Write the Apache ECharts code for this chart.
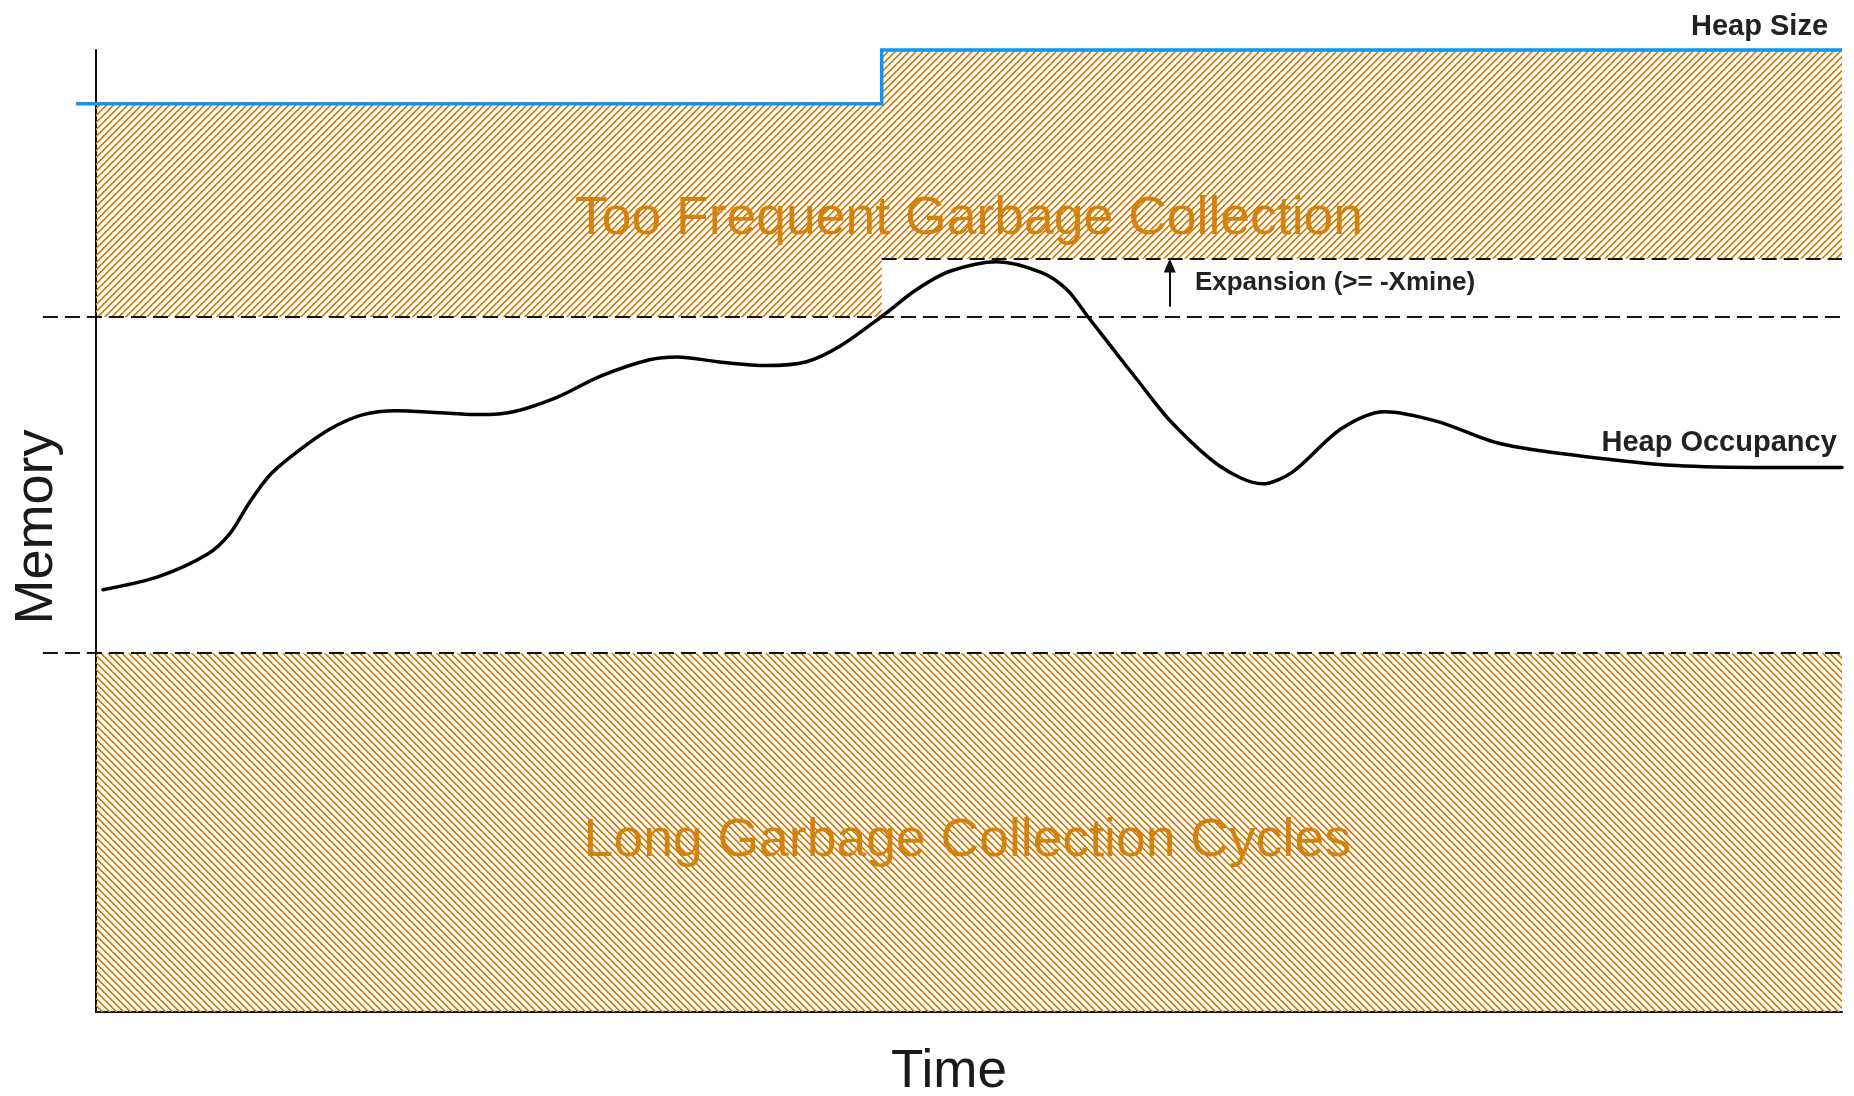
<!DOCTYPE html>
<html>
<head>
<meta charset="utf-8">
<title>Heap occupancy</title>
<script src="https://cdn.jsdelivr.net/npm/echarts@6/dist/echarts.min.js"></script>
<style>
  html, body { margin: 0; padding: 0; background: #fff; }
  #chart { width: 1854px; height: 1096px; }
</style>
</head>
<body>
<div id="chart"></div>
<script>
// time and memory are both in % of the axis length
const occupancyTime = [0.4, 3.5, 6.4, 7.7, 8.8, 10.0, 11.5, 13.4, 15.3, 17.2, 19.7, 22.0, 23.9, 26.4,
  28.9, 31.7, 33.3, 35.6, 38.4, 40.7, 42.6, 45.0, 47.0, 48.9, 51.6, 54.1, 55.6, 56.8, 58.6, 59.6,
  61.6, 64.4, 66.8, 68.5, 71.3, 73.8, 76.8, 80.4, 85.0, 90.5, 96.0, 100];
const occupancyMemory = [43.9, 45.2, 47.6, 49.8, 53.0, 55.9, 58.2, 60.6, 62.1, 62.5, 62.3, 62.1, 62.4, 63.9,
  66.1, 67.8, 68.1, 67.6, 67.2, 67.6, 69.2, 72.3, 75.1, 77.0, 78.0, 76.9, 75.1, 72.3, 68.1, 65.8,
  61.3, 56.7, 54.9, 56.1, 60.6, 62.4, 61.4, 59.1, 57.8, 56.8, 56.6, 56.6];
const heapSizeTime = [-1.15, 45, 45, 100];
const heapSizeMemory = [94.4, 94.4, 100, 100];
const expansionTime = 45;
const longGcLevel = 37.3;
const frequentGcLevel = 72.25;
const expandedLevel = 78.3;

const orange = '#d4820f';
const font = '"Liberation Sans", Arial, sans-serif';

function pairs(xs, ys) {
  return xs.map((x, i) => [x, ys[i]]);
}

// pixel hatch, dir 1 = "///", -1 = "\\\"
function hatch(dir) {
  const n = 7;
  const c = document.createElement('canvas');
  c.width = c.height = n;
  const ctx = c.getContext('2d');
  for (let i = 0; i < n; i++) {
    for (let j = 0; j < n; j++) {
      const k = dir > 0 ? (i + j) % n : (i - j + n) % n;
      if (k > 2) continue;
      ctx.fillStyle = k < 2 ? orange : 'rgba(212,130,15,0.45)';
      ctx.fillRect(i, j, 1, 1);
    }
  }
  return { image: c, repeat: 'repeat' };
}

// 'lines' series so that the ends may run left of the y axis
function dashed(x0, y) {
  return {
    type: 'lines',
    coordinateSystem: 'cartesian2d',
    clip: false,
    silent: true,
    z: 3,
    data: [{ coords: [[x0, y], [100, y]] }],
    lineStyle: { color: '#111', width: 2, type: [15, 7], opacity: 1 }
  };
}

function note(coord, text, style) {
  return {
    coord: coord,
    symbol: 'rect',
    symbolSize: 1,
    itemStyle: { color: 'transparent' },
    label: Object.assign({
      show: true,
      position: 'inside',
      formatter: text,
      fontFamily: font,
      verticalAlign: 'middle'
    }, style)
  };
}

const myChart = echarts.init(document.getElementById('chart'));

const option = {
  animation: false,
  backgroundColor: '#fff',
  grid: { left: 96, right: 12, top: 50, bottom: 84, outerBoundsMode: 'none', containLabel: false },
  xAxis: {
    type: 'value',
    min: 0,
    max: 100,
    name: 'Time',
    nameLocation: 'middle',
    nameGap: 34,
    nameTextStyle: { fontSize: 53, color: '#1a1a1a', fontFamily: font, padding: [0, 40, 0, 0] },
    axisLine: { show: true, lineStyle: { color: '#111', width: 2 } },
    axisTick: { show: false },
    axisLabel: { show: false },
    splitLine: { show: false }
  },
  yAxis: {
    type: 'value',
    min: 0,
    max: 100,
    name: 'Memory',
    nameLocation: 'middle',
    nameGap: 32,
    nameTextStyle: { fontSize: 54, color: '#1a1a1a', fontFamily: font, padding: [0, 0, 0, 8] },
    axisLine: { show: true, lineStyle: { color: '#111', width: 2 } },
    axisTick: { show: false },
    axisLabel: { show: false },
    splitLine: { show: false }
  },
  series: [
    {
      // hatched zones and the notes
      type: 'line',
      name: 'zones',
      data: [],
      clip: false,
      z: 1,
      markArea: {
        silent: true,
        data: [
          [{ coord: [0, frequentGcLevel], itemStyle: { color: hatch(1), opacity: 1 } },
           { coord: [expansionTime, heapSizeMemory[0]] }],
          [{ coord: [expansionTime, expandedLevel], itemStyle: { color: hatch(1), opacity: 1 } },
           { coord: [100, heapSizeMemory[3]] }],
          [{ coord: [0, 0], itemStyle: { color: hatch(-1), opacity: 1 } },
           { coord: [100, longGcLevel] }]
        ]
      },
      markLine: {
        silent: true,
        symbol: ['none', 'triangle'],
        symbolSize: [12, 14],
        label: { show: false },
        lineStyle: { color: '#111', width: 2, type: 'solid' },
        data: [[{ coord: [61.5, 73.3] }, { coord: [61.5, 77.6] }]]
      },
      markPoint: {
        silent: true,
        data: [
          note([50.0, 82.4], 'Too Frequent Garbage Collection', { fontSize: 53.5, color: orange }),
          note([49.9, 17.7], 'Long Garbage Collection Cycles', { fontSize: 53.5, color: orange }),
          note([62.94, 75.8], 'Expansion (>= -Xmine)',
            { fontSize: 26, fontWeight: 'bold', color: '#222', align: 'left' }),
          note([99.2, 99.9], 'Heap Size',
            { fontSize: 29, fontWeight: 'bold', color: '#222', align: 'right', offset: [0, -24] })
        ]
      }
    },
    dashed(-3.04, longGcLevel),
    dashed(-3.04, frequentGcLevel),
    dashed(expansionTime, expandedLevel),
    {
      type: 'lines',
      name: 'Heap Size',
      coordinateSystem: 'cartesian2d',
      polyline: true,
      clip: false,
      silent: true,
      z: 4,
      data: [{ coords: pairs(heapSizeTime, heapSizeMemory) }],
      lineStyle: { color: '#0d96f2', width: 3.5, opacity: 1 }
    },
    {
      type: 'line',
      name: 'Heap Occupancy',
      clip: false,
      symbol: 'none',
      smooth: 0.3,
      z: 5,
      data: pairs(occupancyTime, occupancyMemory),
      lineStyle: { color: '#000', width: 3.5, cap: 'round' },
      markPoint: {
        silent: true,
        data: [note([99.7, 59.1], 'Heap Occupancy',
          { fontSize: 29, fontWeight: 'bold', color: '#222', align: 'right' })]
      }
    }
  ]
};

myChart.setOption(option);
</script>
</body>
</html>
